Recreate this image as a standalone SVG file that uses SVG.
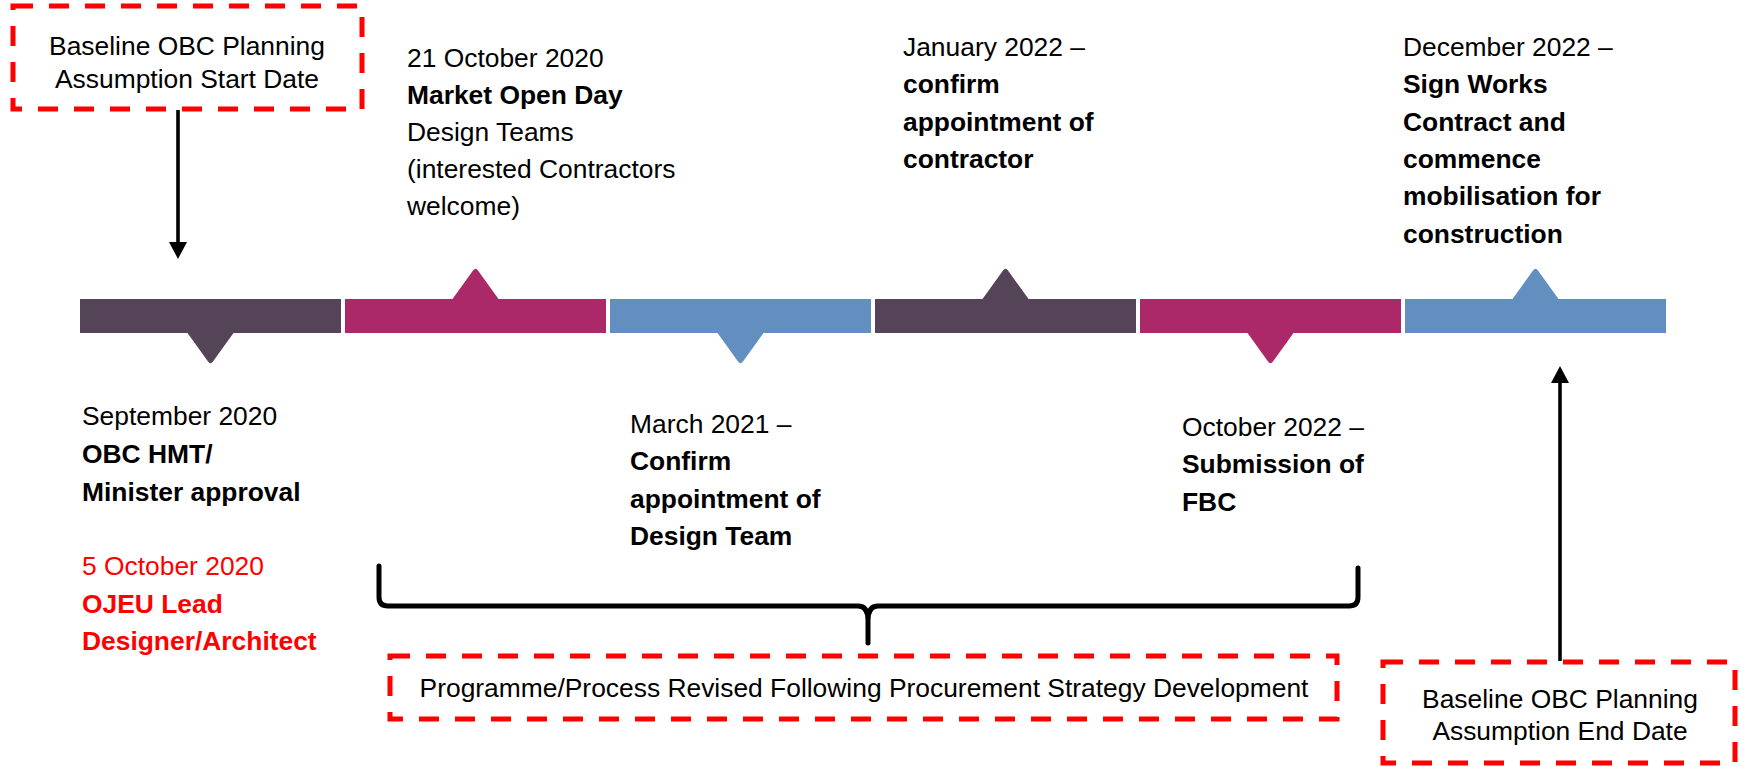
<svg xmlns="http://www.w3.org/2000/svg" width="1739" height="767" viewBox="0 0 1739 767">
<style>
text{font-family:"Liberation Sans",Arial,sans-serif;font-size:26.4px;fill:#000}
.b{font-weight:bold}
.red{fill:#FF0000}
.mid{text-anchor:middle}
.dash{fill:none;stroke:#FF0000;stroke-width:5;stroke-dasharray:20 16}
.c1{fill:#554457}.c2{fill:#AB2869}.c3{fill:#638FC0}
.conn{stroke:#000;stroke-width:3.6;fill:none}
.brace{stroke:#000;stroke-width:5;fill:none;stroke-linecap:round;stroke-linejoin:round}
</style>
<rect width="1739" height="767" fill="#fff"/>

<g id="seg1"><rect class="c1" x="80" y="299" width="261" height="34"/><path class="c1" d="M187.5,333 L208,361.5 Q210.5,365 213,361.5 L233.5,333 Z"/></g>
<g id="seg2"><rect class="c2" x="345" y="299" width="261" height="34"/><path class="c2" d="M452.5,299 L473,270.5 Q475.5,267 478,270.5 L498.5,299 Z"/></g>
<g id="seg3"><rect class="c3" x="610" y="299" width="261" height="34"/><path class="c3" d="M717.5,333 L738,361.5 Q740.5,365 743,361.5 L763.5,333 Z"/></g>
<g id="seg4"><rect class="c1" x="875" y="299" width="261" height="34"/><path class="c1" d="M982.5,299 L1003,270.5 Q1005.5,267 1008,270.5 L1028.5,299 Z"/></g>
<g id="seg5"><rect class="c2" x="1140" y="299" width="261" height="34"/><path class="c2" d="M1247.5,333 L1268,361.5 Q1270.5,365 1273,361.5 L1293.5,333 Z"/></g>
<g id="seg6"><rect class="c3" x="1405" y="299" width="261" height="34"/><path class="c3" d="M1512.5,299 L1533,270.5 Q1535.5,267 1538,270.5 L1558.5,299 Z"/></g>

<g id="start-box"><rect class="dash" x="13" y="6" width="349" height="103"/>
<text class="mid" x="187" y="55">Baseline OBC Planning</text>
<text class="mid" x="187" y="88">Assumption Start Date</text></g>

<g id="end-box"><rect class="dash" x="1383" y="662" width="352" height="101"/>
<text class="mid" x="1560" y="708">Baseline OBC Planning</text>
<text class="mid" x="1560" y="740">Assumption End Date</text></g>

<g id="revised-box"><rect class="dash" x="390" y="656" width="947" height="63"/>
<text class="mid" x="864" y="697">Programme/Process Revised Following Procurement Strategy Development</text></g>

<g id="connectors">
<line class="conn" x1="178" y1="110" x2="178" y2="244"/>
<polygon points="169,242 187,242 178,259" fill="#000"/>
<line class="conn" x1="1560" y1="661" x2="1560" y2="380"/>
<polygon points="1551,383 1569,383 1560,366" fill="#000"/>
<path class="brace" d="M379,566 L379,597 Q379,606 388,606 L858,606 Q868,606 868,620 L868,643 M868,643 L868,620 Q868,606 878,606 L1349,606 Q1358,606 1358,597 L1358,568"/>
</g>

<g id="label-sep2020">
<text x="82" y="425">September 2020</text>
<text class="b" x="82" y="463">OBC HMT/</text>
<text class="b" x="82" y="501">Minister approval</text>
<text class="red" x="82" y="575">5 October 2020</text>
<text class="b red" x="82" y="613">OJEU Lead</text>
<text class="b red" x="82" y="650">Designer/Architect</text>
</g>

<g id="label-oct2020">
<text x="407" y="67">21 October 2020</text>
<text class="b" x="407" y="104">Market Open Day</text>
<text x="407" y="141">Design Teams</text>
<text x="407" y="178">(interested Contractors</text>
<text x="407" y="215">welcome)</text>
</g>

<g id="label-mar2021">
<text x="630" y="433">March 2021 –</text>
<text class="b" x="630" y="470">Confirm</text>
<text class="b" x="630" y="508">appointment of</text>
<text class="b" x="630" y="545">Design Team</text>
</g>

<g id="label-jan2022">
<text x="903" y="56">January 2022 –</text>
<text class="b" x="903" y="93">confirm</text>
<text class="b" x="903" y="131">appointment of</text>
<text class="b" x="903" y="168">contractor</text>
</g>

<g id="label-oct2022">
<text x="1182" y="436">October 2022 –</text>
<text class="b" x="1182" y="473">Submission of</text>
<text class="b" x="1182" y="511">FBC</text>
</g>

<g id="label-dec2022">
<text x="1403" y="56">December 2022 –</text>
<text class="b" x="1403" y="93">Sign Works</text>
<text class="b" x="1403" y="131">Contract and</text>
<text class="b" x="1403" y="168">commence</text>
<text class="b" x="1403" y="205">mobilisation for</text>
<text class="b" x="1403" y="243">construction</text>
</g>
</svg>
